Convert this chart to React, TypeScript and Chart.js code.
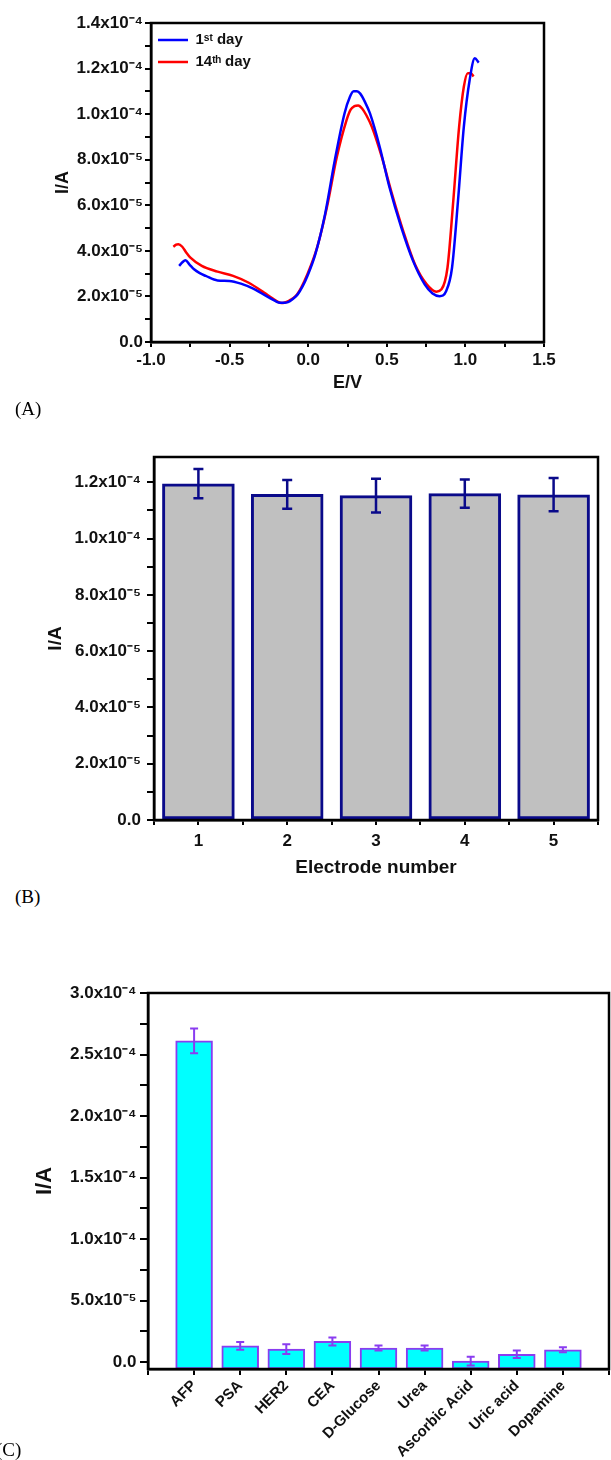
import React, { useEffect, useRef } from 'react';
import { Chart, registerables } from 'chart.js';

Chart.register(...registerables);

const SANS = '"Liberation Sans", Arial, Helvetica, sans-serif';
const SERIF = '"Liberation Serif", "Times New Roman", Times, serif';
const TEXT = '#111111';

// ---------------- Panel A: stability (1st day vs 14th day) ----------------
const potentialDay1 = [-0.821, -0.8, -0.781, -0.755, -0.726, -0.69, -0.652, -0.577, -0.502, -0.428, -0.353, -0.3, -0.254, -0.21, -0.179, -0.15, -0.129, -0.1, -0.067, -0.035, -0.005, 0.045, 0.107, 0.169, 0.231, 0.265, 0.289, 0.31, 0.331, 0.36, 0.393, 0.455, 0.517, 0.592, 0.667, 0.741, 0.791, 0.836, 0.878, 0.915, 0.953, 0.99, 1.027, 1.06, 1.085];
const currentDay1 = [3.34e-5, 3.5e-5, 3.59e-5, 3.4e-5, 3.19e-5, 3.02e-5, 2.9e-5, 2.7e-5, 2.68e-5, 2.56e-5, 2.35e-5, 2.15e-5, 1.97e-5, 1.8e-5, 1.72e-5, 1.72e-5, 1.75e-5, 1.88e-5, 2.09e-5, 2.45e-5, 2.9e-5, 3.85e-5, 5.6e-5, 7.97e-5, 1.003e-4, 1.075e-4, 1.1e-4, 1.1e-4, 1.09e-4, 1.055e-4, 1.003e-4, 8.56e-5, 6.79e-5, 5.03e-5, 3.56e-5, 2.53e-5, 2.13e-5, 2.01e-5, 2.24e-5, 3.26e-5, 6.2e-5, 9.44e-5, 1.15e-4, 1.245e-4, 1.226e-4];
const potentialDay14 = [-0.858, -0.84, -0.826, -0.801, -0.775, -0.751, -0.677, -0.577, -0.478, -0.378, -0.279, -0.23, -0.192, -0.17, -0.154, -0.12, -0.08, -0.045, -0.005, 0.057, 0.119, 0.182, 0.244, 0.27, 0.294, 0.318, 0.343, 0.37, 0.405, 0.468, 0.53, 0.604, 0.679, 0.754, 0.816, 0.848, 0.886, 0.923, 0.96, 0.99, 1.015, 1.035, 1.052];
const currentDay14 = [4.18e-5, 4.27e-5, 4.29e-5, 4.18e-5, 3.92e-5, 3.71e-5, 3.34e-5, 3.09e-5, 2.9e-5, 2.6e-5, 2.16e-5, 1.93e-5, 1.76e-5, 1.71e-5, 1.72e-5, 1.82e-5, 2.01e-5, 2.38e-5, 2.97e-5, 4.15e-5, 5.91e-5, 8.12e-5, 9.74e-5, 1.02e-4, 1.035e-4, 1.038e-4, 1.025e-4, 9.95e-5, 9.44e-5, 8.12e-5, 6.57e-5, 4.88e-5, 3.41e-5, 2.53e-5, 2.21e-5, 2.31e-5, 3.26e-5, 6.2e-5, 9.44e-5, 1.12e-4, 1.18e-4, 1.18e-4, 1.165e-4];
const seriesLabelsA = ['1ˢᵗ day', '14ᵗʰ day'];
const seriesColorsA = ['#0000FF', '#FF0000'];
const xTickValuesA = [-1, -0.75, -0.5, -0.25, 0, 0.25, 0.5, 0.75, 1, 1.25, 1.5];
const xTickLabelsA = ['-1.0', '', '-0.5', '', '0.0', '', '0.5', '', '1.0', '', '1.5'];
const yTickValuesA = [0, 1e-5, 2e-5, 3e-5, 4e-5, 5e-5, 6e-5, 7e-5, 8e-5, 9e-5, 1e-4, 1.1e-4, 1.2e-4, 1.3e-4, 1.4e-4];
const yTickLabelsA = ['0.0', '', '2.0x10⁻⁵', '', '4.0x10⁻⁵', '', '6.0x10⁻⁵', '', '8.0x10⁻⁵', '', '1.0x10⁻⁴', '', '1.2x10⁻⁴', '', '1.4x10⁻⁴'];

// ---------------- Panel B: reproducibility ----------------
const electrodes = [1, 2, 3, 4, 5];
const currentB = [1.195e-4, 1.157e-4, 1.153e-4, 1.16e-4, 1.156e-4];
const errorB = [5.2e-6, 5.1e-6, 6.0e-6, 5.0e-6, 5.9e-6];
const xTickValuesB = [0.5, 1, 1.5, 2, 2.5, 3, 3.5, 4, 4.5, 5, 5.5];
const xTickLabelsB = ['', '1', '', '2', '', '3', '', '4', '', '5', ''];
const yTickValuesB = [0, 1e-5, 2e-5, 3e-5, 4e-5, 5e-5, 6e-5, 7e-5, 8e-5, 9e-5, 1e-4, 1.1e-4, 1.2e-4];
const yTickLabelsB = ['0.0', '', '2.0x10⁻⁵', '', '4.0x10⁻⁵', '', '6.0x10⁻⁵', '', '8.0x10⁻⁵', '', '1.0x10⁻⁴', '', '1.2x10⁻⁴'];

// ---------------- Panel C: selectivity ----------------
const analytePositions = [1, 2, 3, 4, 5, 6, 7, 8, 9];
const currentC = [2.611e-4, 1.32e-5, 1.06e-5, 1.68e-5, 1.15e-5, 1.15e-5, 8e-7, 6.4e-6, 1.0e-5];
const errorC = [1.0e-5, 3.2e-6, 4.0e-6, 3.2e-6, 2.1e-6, 2.1e-6, 3.6e-6, 3.0e-6, 2.0e-6];
const xTickValuesC = [0, 1, 2, 3, 4, 5, 6, 7, 8, 9, 10];
const xTickLabelsC = ['', 'AFP', 'PSA', 'HER2', 'CEA', 'D-Glucose', 'Urea', 'Ascorbic Acid', 'Uric acid', 'Dopamine', ''];
const yTickValuesC = [0, 2.5e-5, 5e-5, 7.5e-5, 1e-4, 1.25e-4, 1.5e-4, 1.75e-4, 2e-4, 2.25e-4, 2.5e-4, 2.75e-4, 3e-4];
const yTickLabelsC = ['0.0', '', '5.0x10⁻⁵', '', '1.0x10⁻⁴', '', '1.5x10⁻⁴', '', '2.0x10⁻⁴', '', '2.5x10⁻⁴', '', '3.0x10⁻⁴'];
const yMinC = -5.6e-6;
const yMaxC = 3e-4;

// ---------------- helpers ----------------
const bold = (size: number) => ({ family: SANS, size, weight: 'bold' as const });

const framePlugin = {
  id: 'frame',
  afterDraw(chart: any) {
    const { ctx, chartArea: a } = chart;
    ctx.save();
    ctx.strokeStyle = '#000';
    ctx.lineWidth = 2.5;
    ctx.strokeRect(a.left, a.top, a.right - a.left, a.bottom - a.top);
    ctx.restore();
  },
};

const errorBarPlugin = {
  id: 'errorBars',
  afterDatasetsDraw(chart: any, _args: any, opts: any) {
    if (!opts || !opts.errors) return;
    const meta = chart.getDatasetMeta(0);
    const yScale = chart.scales.y;
    const ctx = chart.ctx;
    ctx.save();
    ctx.strokeStyle = opts.color;
    ctx.lineWidth = opts.lineWidth;
    meta.data.forEach((el: any, i: number) => {
      const v = opts.values[i];
      const e = opts.errors[i];
      const top = yScale.getPixelForValue(v + e);
      const bot = yScale.getPixelForValue(v - e);
      const c = opts.capWidth / 2;
      ctx.beginPath();
      ctx.moveTo(el.x, top);
      ctx.lineTo(el.x, bot);
      ctx.moveTo(el.x - c, top);
      ctx.lineTo(el.x + c, top);
      ctx.moveTo(el.x - c, bot);
      ctx.lineTo(el.x + c, bot);
      ctx.stroke();
    });
    ctx.restore();
  },
};

function linearAxis(o: {
  min: number; max: number; values: number[]; labels: string[];
  size: number; horizontal: boolean; tickLength: number; pad: number;
  fontSize: number; title: string; titleSize: number; rotation?: number;
}) {
  return {
    type: 'linear',
    min: o.min,
    max: o.max,
    offset: false,
    afterBuildTicks: (s: any) => { s.ticks = o.values.map((v) => ({ value: v })); },
    afterFit: (s: any) => {
      if (o.horizontal) s.height = o.size; else s.width = o.size;
      s.paddingLeft = 0; s.paddingRight = 0; s.paddingTop = 0; s.paddingBottom = 0;
    },
    ticks: {
      callback: (_v: any, i: number) => o.labels[i],
      font: bold(o.fontSize),
      color: TEXT,
      padding: o.pad,
      autoSkip: false,
      maxRotation: o.rotation ?? 0,
      minRotation: o.rotation ?? 0,
    },
    grid: { offset: false, drawOnChartArea: false, drawTicks: true, tickLength: o.tickLength, lineWidth: 2, tickWidth: 2, tickColor: '#000', color: '#000' },
    border: { display: true, color: '#000', width: 2.5 },
    title: { display: o.title !== '', text: o.title, font: bold(o.titleSize), color: TEXT, padding: 0 },
  };
}

function ChartCanvas({ config, left, top, width, height }: { config: any; left: number; top: number; width: number; height: number }) {
  const ref = useRef<HTMLCanvasElement>(null);
  useEffect(() => {
    const chart = new Chart(ref.current as HTMLCanvasElement, config);
    return () => chart.destroy();
  }, []);
  return (
    <canvas
      ref={ref}
      width={width}
      height={height}
      style={{ position: 'absolute', left, top, width, height, display: 'block' }}
    />
  );
}

export default function App() {
  const configA = {
    type: 'line',
    data: {
      datasets: [
        {
          label: seriesLabelsA[0],
          data: potentialDay1.map((x, i) => ({ x, y: currentDay1[i] })),
          borderColor: seriesColorsA[0],
          backgroundColor: seriesColorsA[0],
          borderWidth: 2.5,
          pointRadius: 0,
          cubicInterpolationMode: 'monotone',
          fill: false,
        },
        {
          label: seriesLabelsA[1],
          data: potentialDay14.map((x, i) => ({ x, y: currentDay14[i] })),
          borderColor: seriesColorsA[1],
          backgroundColor: seriesColorsA[1],
          borderWidth: 2.5,
          pointRadius: 0,
          cubicInterpolationMode: 'monotone',
          fill: false,
        },
      ],
    },
    options: {
      responsive: false,
      animation: false,
      devicePixelRatio: 1,
      layout: { padding: { left: 52, right: 67, top: 23, bottom: 6 } },
      scales: {
        x: linearAxis({ min: -1, max: 1.5, values: xTickValuesA, labels: xTickLabelsA, size: 52, horizontal: true, tickLength: 5, pad: 3, fontSize: 17, title: 'E/V', titleSize: 18 }),
        y: linearAxis({ min: 0, max: 1.4e-4, values: yTickValuesA, labels: yTickLabelsA, size: 99, horizontal: false, tickLength: 6, pad: 2, fontSize: 17, title: 'I/A', titleSize: 18 }),
      },
      plugins: {
        tooltip: { enabled: false },
        legend: {
          display: true,
          position: 'chartArea',
          align: 'start',
          title: { display: true, text: '', font: { size: 10 }, padding: { top: 13.5, bottom: 0 } },
          labels: {
            usePointStyle: true,
            pointStyle: 'line',
            pointStyleWidth: 30,
            padding: 7,
            font: bold(15),
            color: TEXT,
          },
        },
      },
    },
    plugins: [framePlugin],
  };

  const configB = {
    type: 'bar',
    data: {
      datasets: [
        {
          label: 'I/A',
          data: electrodes.map((x, i) => ({ x, y: currentB[i] })),
          backgroundColor: '#C0C0C0',
          borderColor: '#0A0A8A',
          borderWidth: 3,
          borderSkipped: false,
          barThickness: 'flex',
          barPercentage: 0.9,
          categoryPercentage: 0.9,
        },
      ],
    },
    options: {
      responsive: false,
      animation: false,
      devicePixelRatio: 1,
      layout: { padding: { left: 44, right: 13, top: 27, bottom: 6 } },
      scales: {
        x: linearAxis({ min: 0.5, max: 5.5, values: xTickValuesB, labels: xTickLabelsB, size: 59, horizontal: true, tickLength: 5, pad: 6, fontSize: 17, title: 'Electrode number', titleSize: 19 }),
        y: linearAxis({ min: 0, max: 1.29e-4, values: yTickValuesB, labels: yTickLabelsB, size: 110, horizontal: false, tickLength: 7, pad: 6, fontSize: 17, title: 'I/A', titleSize: 19 }),
      },
      plugins: {
        tooltip: { enabled: false },
        legend: { display: false },
        errorBars: { values: currentB, errors: errorB, color: '#0A0A8A', lineWidth: 2.5, capWidth: 10 },
      },
    },
    plugins: [framePlugin, errorBarPlugin],
  };

  const configC = {
    type: 'bar',
    data: {
      datasets: [
        {
          label: 'I/A',
          data: analytePositions.map((x, i) => ({ x, y: currentC[i] })),
          base: yMinC,
          backgroundColor: '#00FFFF',
          borderColor: '#8A3CF0',
          borderWidth: 2,
          borderSkipped: false,
          barThickness: 'flex',
          barPercentage: 0.8,
          categoryPercentage: 1.0,
        },
      ],
    },
    options: {
      responsive: false,
      animation: false,
      devicePixelRatio: 1,
      layout: { padding: { left: 32, right: 2, top: 33, bottom: 0 } },
      scales: {
        x: linearAxis({ min: 0, max: 10, values: xTickValuesC, labels: xTickLabelsC, size: 91, horizontal: true, tickLength: 6, pad: 2, fontSize: 15, title: '', titleSize: 15, rotation: 45 }),
        y: linearAxis({ min: yMinC, max: yMaxC, values: yTickValuesC, labels: yTickLabelsC, size: 116, horizontal: false, tickLength: 8, pad: 3.5, fontSize: 17, title: 'I/A', titleSize: 22 }),
      },
      plugins: {
        tooltip: { enabled: false },
        legend: { display: false },
        errorBars: { values: currentC, errors: errorC, color: '#8A3CF0', lineWidth: 2, capWidth: 8 },
      },
    },
    plugins: [framePlugin, errorBarPlugin],
  };

  const panelLabel = (text: string, left: number, top: number) => (
    <div style={{ position: 'absolute', left, top, fontFamily: SERIF, fontSize: 19, lineHeight: '22px', color: '#000', whiteSpace: 'nowrap' }}>
      {text}
    </div>
  );

  return (
    <div style={{ position: 'absolute', left: 0, top: 0, width: 611, height: 1460, background: '#ffffff', overflow: 'hidden' }}>
      <ChartCanvas config={configA} left={0} top={0} width={611} height={400} />
      {panelLabel('(A)', 15, 398)}
      <ChartCanvas config={configB} left={0} top={430} width={611} height={455} />
      {panelLabel('(B)', 15, 886)}
      <ChartCanvas config={configC} left={0} top={960} width={611} height={500} />
      {panelLabel('(C)', -4, 1439)}
    </div>
  );
}
